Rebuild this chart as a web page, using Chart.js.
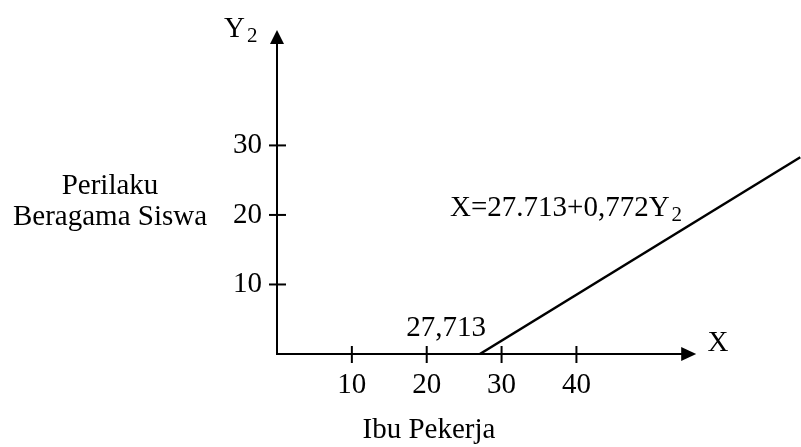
<!DOCTYPE html>
<html>
<head>
<meta charset="utf-8">
<script src="https://cdn.jsdelivr.net/npm/chart.js@4"></script>
<style>
  body { margin: 0; background: #fff; }
</style>
</head>
<body>
<canvas id="myChart" width="801" height="447"></canvas>
<script>
// data
let xTicks = [10, 20, 30, 40];
let yTicks = [10, 20, 30];
let lineX = [27.1, 69.9];
let lineY = [0, 28.3];
let interceptLabel = "27,713";

let serif = "\"Liberation Serif\", \"Times New Roman\", serif";
let fs = 29;

function txt(ctx, s, x, y, size, align) {
  ctx.save();
  ctx.font = size + "px " + serif;
  ctx.textAlign = align || "center";
  ctx.textBaseline = "middle";
  ctx.fillText(s, x, y);
  ctx.restore();
}

// text with a subscript "2" at the end
function txtSub(ctx, s, x, y, size) {
  ctx.save();
  ctx.font = size + "px " + serif;
  ctx.textBaseline = "middle";
  ctx.textAlign = "left";
  ctx.fillText(s, x, y);
  let w = ctx.measureText(s).width;
  ctx.font = Math.round(size * 0.72) + "px " + serif;
  ctx.fillText("2", x + w + 2, y + 7);
  ctx.restore();
}

const axesPlugin = {
  id: "axesPlugin",
  afterDraw(chart) {
    let ctx = chart.ctx;
    let xs = chart.scales.x, ys = chart.scales.y;
    let x0 = xs.getPixelForValue(0), y0 = ys.getPixelForValue(0);
    let xEnd = xs.getPixelForValue(56);
    let yEnd = ys.getPixelForValue(46.6);
    ctx.save();
    ctx.strokeStyle = "#000";
    ctx.fillStyle = "#000";
    ctx.lineWidth = 2;
    // axes
    ctx.beginPath();
    ctx.moveTo(x0, yEnd + 10);
    ctx.lineTo(x0, y0);
    ctx.lineTo(xEnd - 10, y0);
    ctx.stroke();
    // arrow heads
    ctx.beginPath();
    ctx.moveTo(x0, yEnd);
    ctx.lineTo(x0 - 7, yEnd + 14);
    ctx.lineTo(x0 + 7, yEnd + 14);
    ctx.closePath();
    ctx.fill();
    ctx.beginPath();
    ctx.moveTo(xEnd, y0);
    ctx.lineTo(xEnd - 15, y0 - 7);
    ctx.lineTo(xEnd - 15, y0 + 7);
    ctx.closePath();
    ctx.fill();
    // ticks
    ctx.lineWidth = 2;
    xTicks.forEach(v => {
      let px = xs.getPixelForValue(v);
      ctx.beginPath();
      ctx.moveTo(px, y0 - 8);
      ctx.lineTo(px, y0 + 9);
      ctx.stroke();
      txt(ctx, String(v), px, 385, fs);
    });
    yTicks.forEach(v => {
      let py = ys.getPixelForValue(v);
      ctx.beginPath();
      ctx.moveTo(x0 - 8, py);
      ctx.lineTo(x0 + 9, py);
      ctx.stroke();
      txt(ctx, String(v), x0 - 15, py, fs, "right");
    });
    // labels
    txtSub(ctx, "Y", 224, 29, fs);
    txt(ctx, "X", 718, 343, fs);
    txt(ctx, "Ibu Pekerja", 429, 430, fs);
    txt(ctx, "Perilaku", 110, 186, fs);
    txt(ctx, "Beragama Siswa", 110, 217, fs);
    txt(ctx, interceptLabel, 446, 328, fs);
    txtSub(ctx, "X=27.713+0,772Y", 450, 208, fs);
    ctx.restore();
  }
};

function draw() {
  new Chart(document.getElementById("myChart"), {
    type: "scatter",
    data: {
      datasets: [{
        data: lineX.map((x, i) => ({ x: x, y: lineY[i] })),
        showLine: true,
        borderColor: "#000",
        borderWidth: 2.5,
        pointRadius: 0
      }]
    },
    options: {
      responsive: false,
      animation: false,
      layout: { padding: { left: 277, right: 0, top: 30, bottom: 93 } },
      plugins: { legend: { display: false }, tooltip: { enabled: false } },
      scales: {
        x: { display: false, min: 0, max: 70 },
        y: { display: false, min: 0, max: 46.6 }
      }
    },
    plugins: [axesPlugin]
  });
}

document.fonts.load(fs + "px \"Liberation Serif\"").then(draw, draw);
</script>
</body>
</html>
